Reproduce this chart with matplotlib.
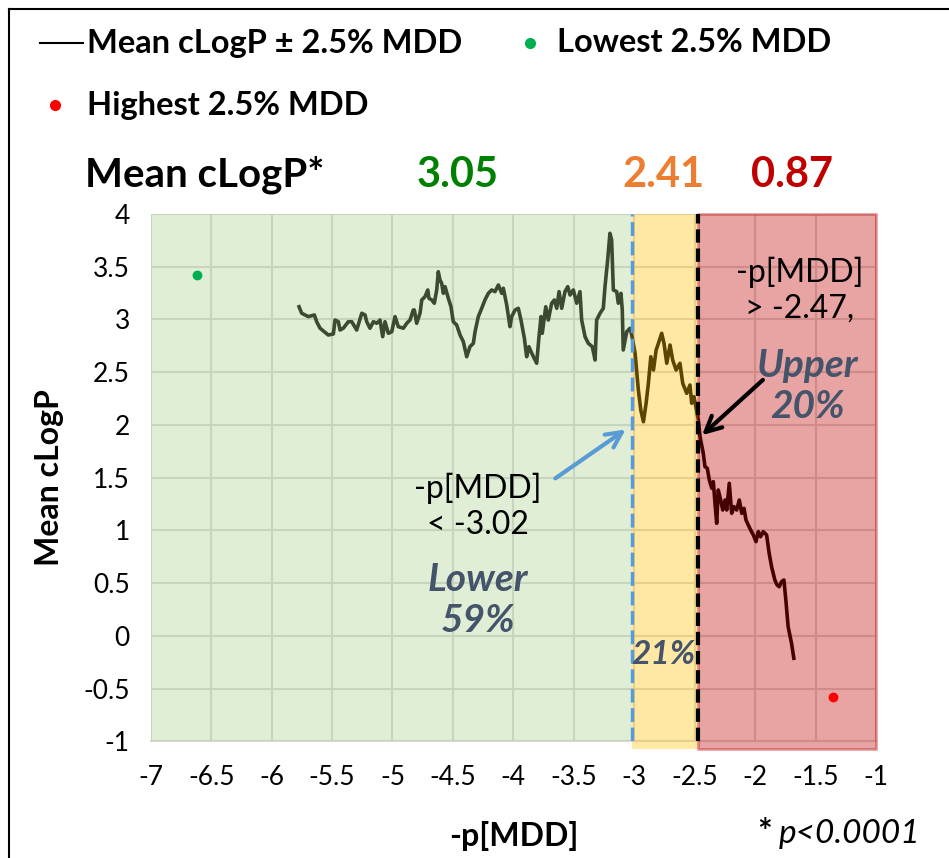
import matplotlib
matplotlib.use("Agg")
import matplotlib.pyplot as plt
from matplotlib.patches import Rectangle
from matplotlib.lines import Line2D
import numpy as np

plt.rcParams['font.family'] = ['Lato', 'DejaVu Sans']

# Running mean cLogP (window of +/- 2.5% of compounds) against -p[MDD]
p_mdd = [
    -5.773, -5.751, -5.696, -5.646, -5.627, -5.599, -5.564, -5.531, -5.489, -5.475,
    -5.448, -5.434, -5.407, -5.365, -5.337, -5.296, -5.254, -5.227, -5.213, -5.186,
    -5.158, -5.130, -5.103, -5.081, -5.062, -5.034, -5.006, -4.979, -4.952, -4.910,
    -4.882, -4.855, -4.828, -4.819, -4.800, -4.772, -4.758, -4.731, -4.708, -4.698,
    -4.675, -4.654, -4.634, -4.621, -4.607, -4.593, -4.579, -4.565, -4.538, -4.516,
    -4.497, -4.469, -4.441, -4.414, -4.386, -4.359, -4.331, -4.317, -4.290, -4.262,
    -4.235, -4.207, -4.179, -4.152, -4.124, -4.096, -4.083, -4.055, -4.028, -4.014,
    -3.986, -3.959, -3.937, -3.909, -3.890, -3.871, -3.848, -3.821, -3.807, -3.788,
    -3.771, -3.761, -3.732, -3.711, -3.683, -3.661, -3.641, -3.622, -3.600, -3.573,
    -3.550, -3.531, -3.504, -3.476, -3.449, -3.435, -3.407, -3.380, -3.347, -3.324,
    -3.311, -3.283, -3.256, -3.242, -3.220, -3.201, -3.187, -3.173, -3.145, -3.132,
    -3.110, -3.099, -3.091, -3.062, -3.035, -3.021, -2.993, -2.966, -2.946, -2.924,
    -2.902, -2.883, -2.863, -2.841, -2.819, -2.800, -2.773, -2.754, -2.731, -2.704,
    -2.682, -2.654, -2.622, -2.599, -2.566, -2.539, -2.525, -2.506, -2.470, -2.456,
    -2.429, -2.415, -2.396, -2.379, -2.359, -2.346, -2.332, -2.318, -2.305, -2.285,
    -2.268, -2.249, -2.235, -2.214, -2.194, -2.175, -2.153, -2.131, -2.111, -2.092,
    -2.076, -2.057, -2.037, -2.015, -1.993, -1.974, -1.955, -1.933, -1.905, -1.884,
    -1.864, -1.837, -1.818, -1.801, -1.781, -1.762, -1.746, -1.727, -1.699, -1.680,
]
mean_clogp = [
    3.121, 3.059, 3.027, 3.043, 2.979, 2.917, 2.884, 2.853, 2.863, 2.995,
    2.979, 2.900, 2.917, 2.979, 2.979, 2.900, 3.059, 3.043, 2.979, 2.917,
    2.979, 2.964, 2.995, 2.837, 2.979, 2.869, 2.884, 3.027, 2.932, 2.917,
    2.964, 2.995, 3.090, 3.090, 2.964, 3.059, 3.185, 3.216, 3.280, 3.201,
    3.185, 3.154, 3.280, 3.453, 3.374, 3.343, 3.248, 3.311, 3.201, 3.121,
    2.979, 2.948, 2.853, 2.790, 2.647, 2.742, 2.774, 2.884, 3.027, 3.106,
    3.185, 3.248, 3.280, 3.264, 3.327, 3.248, 3.296, 3.137, 2.932, 3.027,
    3.090, 3.106, 2.995, 2.822, 2.647, 2.742, 2.680, 2.616, 2.585, 2.837,
    3.027, 2.869, 3.121, 2.995, 3.154, 3.185, 3.106, 3.264, 3.106, 3.264,
    3.311, 3.232, 3.280, 3.154, 3.264, 2.995, 2.837, 2.774, 2.742, 2.616,
    2.995, 3.059, 3.106, 3.311, 3.564, 3.817, 3.754, 3.280, 3.264, 3.154,
    3.248, 3.090, 2.711, 2.884, 2.917, 2.853, 2.680, 2.332, 2.142, 2.031,
    2.206, 2.395, 2.647, 2.521, 2.711, 2.774, 2.869, 2.774, 2.585, 2.758,
    2.616, 2.521, 2.585, 2.395, 2.300, 2.379, 2.206, 2.268, 2.047, 1.889,
    1.732, 1.605, 1.590, 1.479, 1.400, 1.463, 1.258, 1.068, 1.384, 1.289,
    1.194, 1.289, 1.194, 1.447, 1.163, 1.226, 1.194, 1.289, 1.163, 1.210,
    1.100, 1.052, 1.005, 0.957, 0.894, 0.989, 0.941, 0.989, 0.957, 0.784,
    0.657, 0.531, 0.483, 0.467, 0.515, 0.531, 0.341, 0.088, -0.069, -0.211,
]

# Extreme 2.5% groups
lowest_x, lowest_y = [-6.62], [3.42]
highest_x, highest_y = [-1.36], [-0.58]

# Group boundaries, group means and group shares
lower_cut = -3.02
upper_cut = -2.47
group_means = ["3.05", "2.41", "0.87"]
group_shares = ["59%", "21%", "20%"]

x_ticks = np.arange(-7, -0.99, 0.5)
y_ticks = np.arange(-1, 4.01, 0.5)

W, H = 949, 858
fig = plt.figure(figsize=(W / 100, H / 100), dpi=100)


def fx(px):
    return px / W


def fy(py):
    return 1 - py / H


ax = fig.add_axes([0.1588, 0.1358, 0.7643, 0.6148])
ax.set_xlim(-7, -1)
ax.set_ylim(-1, 4)
ax.set_xticks(x_ticks)
ax.set_yticks(y_ticks)
ax.set_xticklabels([f"{v:g}" for v in x_ticks])
ax.set_yticklabels([f"{v:g}" for v in y_ticks])
ax.tick_params(axis='x', length=0, labelsize=19, pad=17)
ax.tick_params(axis='y', length=0, labelsize=19, pad=15)
ax.grid(True, color='#D9D9D9', lw=1.5, zorder=0)
ax.set_axisbelow(True)
for side in ('top', 'right', 'left'):
    ax.spines[side].set_visible(False)
ax.spines['bottom'].set_color('#D9D9D9')
ax.spines['bottom'].set_linewidth(1.5)

# running mean, tinted by the translucent bands drawn over it
ax.plot(p_mdd, mean_clogp, color='black', lw=2.6, zorder=2)

slate = '#44546A'
ax.add_patch(Rectangle((-7, -1), lower_cut + 7, 5, facecolor='#A9D08E',
                       edgecolor='none', alpha=0.36, zorder=3))
ax.add_patch(Rectangle((lower_cut, -1.07), upper_cut - lower_cut, 5.07,
                       facecolor='#FFC000', edgecolor='none', alpha=0.36,
                       zorder=3, clip_on=False))
ax.add_patch(Rectangle((upper_cut, -1.07), -1 - upper_cut, 5.07,
                       facecolor='#C00000', edgecolor='#C00000', lw=2,
                       alpha=0.36, zorder=3, clip_on=False))

ax.axvline(lower_cut, color='#5B9BD5', lw=2.5, ls=(0, (4, 1.6)), zorder=4)
ax.axvline(upper_cut, color='black', lw=3, ls=(0, (3.2, 1.4)), zorder=4)

ax.scatter(lowest_x, lowest_y, s=50, color='#00B050', zorder=5, lw=0)
ax.scatter(highest_x, highest_y, s=50, color='#FF0000', zorder=5, lw=0)

# annotations
ax.annotate('', xy=(-3.052, 1.972), xytext=(-3.672, 1.479),
            arrowprops=dict(arrowstyle='->', color='#5B9BD5', lw=3,
                            mutation_scale=28), zorder=6)
ax.annotate('', xy=(-2.456, 1.886), xytext=(-1.919, 2.445),
            arrowprops=dict(arrowstyle='->', color='black', lw=3,
                            mutation_scale=28), zorder=6)

ax.text(-4.292, 1.228, "-p[MDD]\n< -3.02", ha='center', va='center',
        fontsize=23, linespacing=1.25, zorder=6)
ax.text(-4.292, 0.341, f"Lower\n{group_shares[0]}", ha='center', va='center',
        fontsize=28, fontweight='bold', fontstyle='italic', color=slate,
        linespacing=1.2, zorder=6)
ax.text(-1.629, 3.28, "-p[MDD]\n> -2.47,", ha='center', va='center',
        fontsize=23, linespacing=1.25, zorder=6)
ax.text(-1.563, 2.37, f"Upper\n{group_shares[2]}", ha='center', va='center',
        fontsize=28, fontweight='bold', fontstyle='italic', color=slate,
        linespacing=1.2, zorder=6)
ax.text(-2.762, -0.18, group_shares[1], ha='center', va='center',
        fontsize=24, fontweight='bold', fontstyle='italic', color=slate,
        zorder=6)

ax.set_xlabel("-p[MDD]", fontsize=23, fontweight='bold', labelpad=22)
ax.set_ylabel("Mean cLogP", fontsize=23, fontweight='bold', labelpad=14)

# group-mean header
fig.text(fx(85), fy(175), "Mean cLogP*", fontsize=29, fontweight='bold',
         ha='left', va='center')
for txt, px, col in zip(group_means, (458, 663, 792),
                        ('#008000', '#ED7D31', '#C00000')):
    fig.text(fx(px), fy(175), txt, fontsize=30, fontweight='bold',
             color=col, ha='center', va='center')

# legend
fig.add_artist(Line2D([fx(40), fx(83)], [fy(43), fy(43)], color='black',
                      lw=1.5, transform=fig.transFigure))
fig.add_artist(Line2D([fx(530)], [fy(43)], marker='o', ms=7, color='#00B050',
                      lw=0, transform=fig.transFigure))
fig.add_artist(Line2D([fx(55)], [fy(105)], marker='o', ms=7, color='#FF0000',
                      lw=0, transform=fig.transFigure))
fig.text(fx(87), fy(43), "Mean cLogP \u00b1 2.5% MDD", fontsize=23.5,
         fontweight='bold', ha='left', va='center')
fig.text(fx(557), fy(43), "Lowest 2.5% MDD", fontsize=23.5,
         fontweight='bold', ha='left', va='center')
fig.text(fx(87), fy(105), "Highest 2.5% MDD", fontsize=23.5,
         fontweight='bold', ha='left', va='center')

# significance note
fig.text(fx(757), fy(843), "*", fontsize=25, fontweight='bold',
         ha='left', va='baseline')
fig.text(fx(779), fy(843), "p<0.0001", fontsize=24, fontstyle='italic',
         ha='left', va='baseline')

# chart frame
fig.add_artist(Line2D([fx(8.5), fx(8.5)], [0, fy(8.5)], color='black',
                      lw=1.5, transform=fig.transFigure))
fig.add_artist(Line2D([fx(8.5), 1], [fy(8.5), fy(8.5)], color='black',
                      lw=1.5, transform=fig.transFigure))

fig.savefig("out.png", dpi=100)
